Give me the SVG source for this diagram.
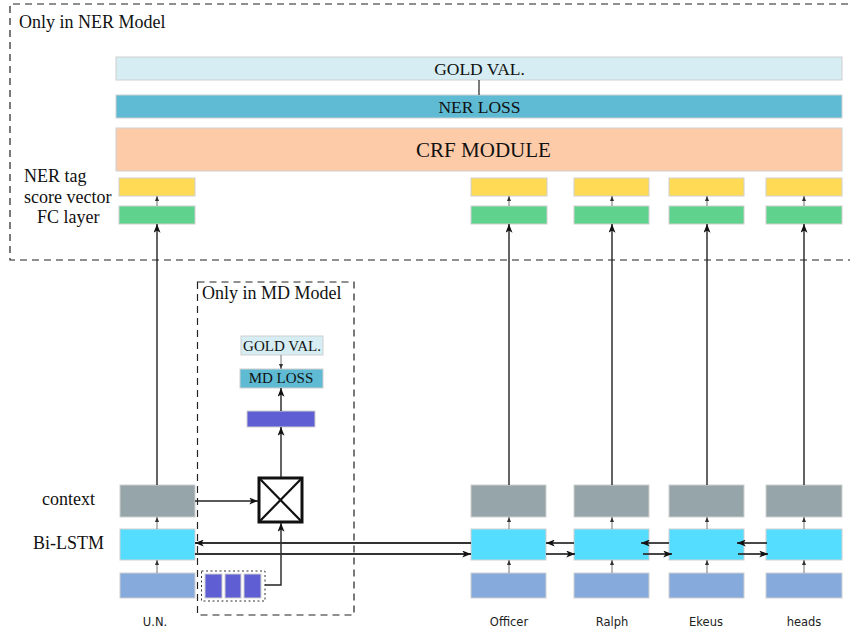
<svg xmlns="http://www.w3.org/2000/svg" width="850" height="630" viewBox="0 0 850 630">
<defs>
<style>
.serif{font-family:"Liberation Serif","Times New Roman",serif;fill:#111}
.sans{font-family:"DejaVu Sans",Verdana,sans-serif;font-size:11.5px;fill:#222;text-anchor:middle}
.bx{stroke:#cfcfcf;stroke-width:1}
.gold{fill:#d6edf3}.loss{fill:#5fbbd3}.crf{fill:#fecba9}.yel{fill:#ffdb55}.grn{fill:#5fd38d}
.ctx{fill:#95a5a9}.lstm{fill:#55ddff}.emb{fill:#87aadd}.pur{fill:#5f5fd3}
.dash{fill:none;stroke:#222;stroke-width:1.2;stroke-dasharray:7,5}
.big{fill:none;stroke:#222;stroke-width:1.4;marker-end:url(#ah)}
.sm{fill:none;stroke:#666;stroke-width:0.9;marker-end:url(#as)}
.hl{fill:none;stroke:#333;stroke-width:1.8;marker-end:url(#ah)}
.hn{fill:none;stroke:#333;stroke-width:1.8}
</style>
<marker id="ah" viewBox="0 0 10 8" refX="10" refY="4" markerWidth="10" markerHeight="7" markerUnits="userSpaceOnUse" orient="auto"><path d="M0,0 L10,4 L0,8 L2.5,4 z" fill="#111"/></marker>
<marker id="as" viewBox="0 0 10 8" refX="10" refY="4" markerWidth="5" markerHeight="4" markerUnits="userSpaceOnUse" orient="auto"><path d="M0,0 L10,4 L0,8 z" fill="#333"/></marker>
</defs>
<rect width="850" height="630" fill="#fff"/>

<g id="ner-region">
<path class="dash" d="M860,4 H10 V260 H860"/>
<text class="serif" x="19" y="28" font-size="18">Only in NER Model</text>
</g>

<g id="gold-val">
<rect class="bx gold" x="116" y="57" width="726" height="23"/>
<text class="serif" x="479.5" y="75" font-size="17.5" text-anchor="middle">GOLD VAL.</text>
</g>
<g id="ner-loss">
<rect class="bx loss" x="116" y="95" width="726" height="23"/>
<text class="serif" x="479.5" y="113" font-size="17.5" text-anchor="middle">NER LOSS</text>
</g>
<g id="crf">
<rect class="bx crf" x="116" y="128" width="726" height="43"/>
<text class="serif" x="483.5" y="157" font-size="21" text-anchor="middle">CRF MODULE</text>
</g>

<g id="left-labels">
<text class="serif" x="24" y="182" font-size="18">NER tag</text>
<text class="serif" x="24" y="203" font-size="18">score vector</text>
<text class="serif" x="37" y="223" font-size="18">FC layer</text>
<text class="serif" x="42" y="505" font-size="18">context</text>
<text class="serif" x="33" y="549" font-size="18">Bi-LSTM</text>
</g>

<g id="col-un">
<rect class="bx yel" x="119" y="178" width="76" height="18"/>
<rect class="bx grn" x="119" y="206" width="76" height="18"/>
<rect class="bx ctx" x="120" y="485" width="75" height="32"/>
<rect class="bx lstm" x="120" y="529" width="75" height="31"/>
<rect class="bx emb" x="120" y="573" width="75" height="25"/>
<text class="sans" x="155" y="626">U.N.</text>
</g>
<g id="col-officer">
<rect class="bx yel" x="471" y="178" width="76" height="18"/>
<rect class="bx grn" x="471" y="206" width="76" height="18"/>
<rect class="bx ctx" x="471" y="485" width="75" height="32"/>
<rect class="bx lstm" x="471" y="529" width="75" height="31"/>
<rect class="bx emb" x="471" y="573" width="75" height="25"/>
<text class="sans" x="509" y="626">Officer</text>
</g>
<g id="col-ralph">
<rect class="bx yel" x="574" y="178" width="75" height="18"/>
<rect class="bx grn" x="574" y="206" width="75" height="18"/>
<rect class="bx ctx" x="574" y="485" width="75" height="32"/>
<rect class="bx lstm" x="574" y="529" width="75" height="31"/>
<rect class="bx emb" x="574" y="573" width="75" height="25"/>
<text class="sans" x="612" y="626">Ralph</text>
</g>
<g id="col-ekeus">
<rect class="bx yel" x="669" y="178" width="75" height="18"/>
<rect class="bx grn" x="669" y="206" width="75" height="18"/>
<rect class="bx ctx" x="669" y="485" width="75" height="32"/>
<rect class="bx lstm" x="669" y="529" width="75" height="31"/>
<rect class="bx emb" x="669" y="573" width="75" height="25"/>
<text class="sans" x="706" y="626">Ekeus</text>
</g>
<g id="col-heads">
<rect class="bx yel" x="766" y="178" width="76" height="18"/>
<rect class="bx grn" x="766" y="206" width="76" height="18"/>
<rect class="bx ctx" x="766" y="485" width="76" height="32"/>
<rect class="bx lstm" x="766" y="529" width="76" height="31"/>
<rect class="bx emb" x="766" y="573" width="76" height="25"/>
<text class="sans" x="804" y="626">heads</text>
</g>

<g id="md-region">
<rect class="dash" x="197.5" y="282" width="156.5" height="333"/>
<text class="serif" x="202" y="299" font-size="18">Only in MD Model</text>
</g>
<g id="md-gold">
<rect class="bx gold" x="241" y="336" width="82" height="19"/>
<text class="serif" x="282" y="350.5" font-size="15" text-anchor="middle">GOLD VAL.</text>
</g>
<g id="md-loss">
<rect class="bx loss" x="240" y="369" width="83" height="19"/>
<text class="serif" x="281" y="383" font-size="15" text-anchor="middle">MD LOSS</text>
</g>
<g id="md-vec">
<rect class="bx pur" x="247" y="411" width="68" height="16"/>
</g>
<g id="mult">
<rect x="259" y="478" width="43" height="44" fill="#fff" stroke="#111" stroke-width="3"/>
<path d="M259,478 L302,522 M302,478 L259,522" stroke="#111" stroke-width="2.2"/>
</g>
<g id="mention-emb">
<rect x="201.5" y="571" width="63.5" height="30" fill="none" stroke="#333" stroke-width="1" stroke-dasharray="2,2.5"/>
<rect class="bx pur" x="205" y="574" width="17" height="24"/>
<rect class="bx pur" x="225" y="574" width="16" height="24"/>
<rect class="bx pur" x="244" y="574" width="17" height="24"/>
</g>

<g id="connectors">
<line class="sm" x1="157" y1="206" x2="157" y2="196"/>
<line class="sm" x1="509" y1="206" x2="509" y2="196"/>
<line class="sm" x1="612" y1="206" x2="612" y2="196"/>
<line class="sm" x1="707" y1="206" x2="707" y2="196"/>
<line class="sm" x1="804" y1="206" x2="804" y2="196"/>
<line class="big" x1="157" y1="485" x2="157" y2="224"/>
<line class="big" x1="509" y1="485" x2="509" y2="224"/>
<line class="big" x1="612" y1="485" x2="612" y2="224"/>
<line class="big" x1="707" y1="485" x2="707" y2="224"/>
<line class="big" x1="804" y1="485" x2="804" y2="224"/>
<line class="sm" x1="157" y1="573" x2="157" y2="560"/>
<line class="sm" x1="157" y1="529" x2="157" y2="517"/>
<line class="sm" x1="509" y1="573" x2="509" y2="560"/>
<line class="sm" x1="509" y1="529" x2="509" y2="517"/>
<line class="sm" x1="612" y1="573" x2="612" y2="560"/>
<line class="sm" x1="612" y1="529" x2="612" y2="517"/>
<line class="sm" x1="707" y1="573" x2="707" y2="560"/>
<line class="sm" x1="707" y1="529" x2="707" y2="517"/>
<line class="sm" x1="804" y1="573" x2="804" y2="560"/>
<line class="sm" x1="804" y1="529" x2="804" y2="517"/>
<line x1="479" y1="80" x2="479" y2="95" stroke="#222" stroke-width="1.2"/>
<line class="sm" x1="281" y1="355" x2="281" y2="369"/>
<line class="big" x1="281" y1="411" x2="281" y2="388"/>
<line class="big" x1="281" y1="477" x2="281" y2="427"/>
<line class="big" x1="195" y1="501" x2="258" y2="501"/>
<path class="big" d="M265,585 H281 V523"/>
<line class="hl" x1="471" y1="543" x2="195" y2="543"/>
<line class="hl" x1="195" y1="554" x2="471" y2="554"/>
<line class="hl" x1="574" y1="543" x2="546" y2="543"/>
<line class="hl" x1="546" y1="554" x2="575" y2="554"/>
<line class="hl" x1="669" y1="543" x2="641" y2="543"/>
<line class="hl" x1="643" y1="554" x2="672" y2="554"/>
<line class="hl" x1="767" y1="543" x2="737" y2="543"/>
<line class="hl" x1="738" y1="554" x2="768" y2="554"/>
</g>
</svg>
